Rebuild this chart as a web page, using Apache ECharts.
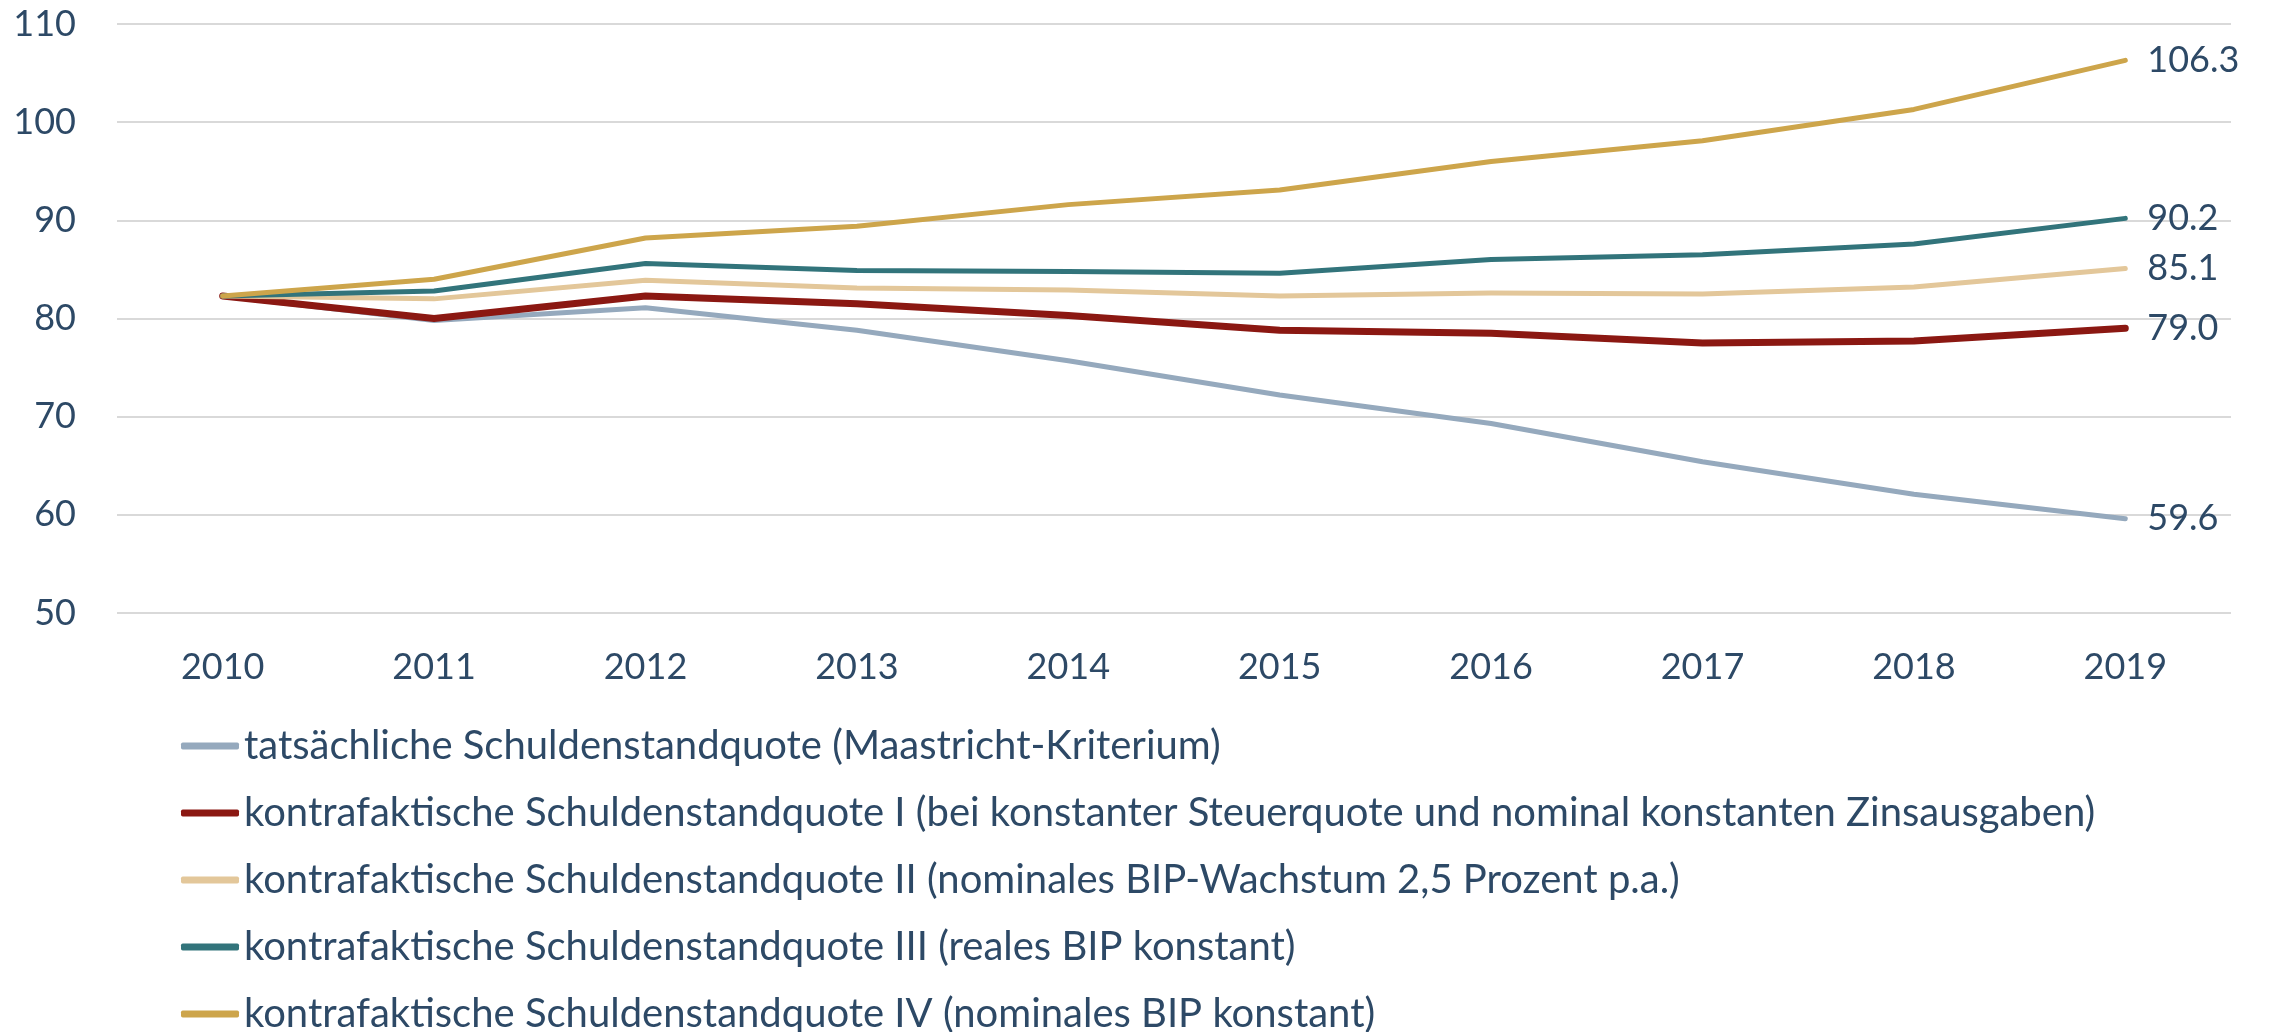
<!DOCTYPE html>
<html>
<head>
<meta charset="UTF-8">
<title>Schuldenstandquote</title>
<script src="https://cdn.jsdelivr.net/npm/echarts@6/dist/echarts.min.js"></script>
<style>
  html, body { margin: 0; padding: 0; background: #fff; }
  #main { width: 2272px; height: 1032px; }
</style>
</head>
<body>
<div id="main"></div>
<script>
  const years = ['2010', '2011', '2012', '2013', '2014', '2015', '2016', '2017', '2018', '2019'];

  // values (percent of GDP)
  const tatsaechlich = [82.3, 79.8, 81.1, 78.8, 75.7, 72.2, 69.3, 65.4, 62.1, 59.6];
  const quoteI = [82.3, 80.0, 82.3, 81.5, 80.3, 78.8, 78.5, 77.5, 77.7, 79.0];
  const quoteII = [82.3, 82.0, 83.9, 83.1, 82.9, 82.3, 82.6, 82.5, 83.2, 85.1];
  const quoteIII = [82.3, 82.8, 85.6, 84.9, 84.8, 84.6, 86.0, 86.5, 87.6, 90.2];
  const quoteIV = [82.3, 84.0, 88.2, 89.4, 91.6, 93.1, 96.0, 98.1, 101.3, 106.3];

  const names = [
    'tatsächliche Schuldenstandquote (Maastricht-Kriterium)',
    'kontrafaktische Schuldenstandquote I (bei konstanter Steuerquote und nominal konstanten Zinsausgaben)',
    'kontrafaktische Schuldenstandquote II (nominales BIP-Wachstum 2,5 Prozent p.a.)',
    'kontrafaktische Schuldenstandquote III (reales BIP konstant)',
    'kontrafaktische Schuldenstandquote IV (nominales BIP konstant)'
  ];
  const colors = ['#95A9BD', '#8B1812', '#E3C79A', '#32747B', '#CDA54B'];
  const widths = [5, 7, 5, 5, 5];
  const allValues = [tatsaechlich, quoteI, quoteII, quoteIII, quoteIV];

  const textColor = '#2D4966';
  const font = 'Lato';

  const chart = echarts.init(document.getElementById('main'), null, { renderer: 'canvas' });
  chart.setOption({
    animation: false,
    backgroundColor: '#ffffff',
    textStyle: { fontFamily: font, color: textColor },
    grid: { left: 117, right: 41, top: 24, bottom: 419, containLabel: false },
    xAxis: {
      type: 'category',
      data: years,
      boundaryGap: true,
      axisLine: { show: false },
      axisTick: { show: false },
      axisLabel: { color: textColor, fontFamily: font, fontSize: 36, margin: 36 }
    },
    yAxis: {
      type: 'value',
      min: 50,
      max: 110,
      interval: 10,
      axisLine: { show: false },
      axisTick: { show: false },
      axisLabel: { color: textColor, fontFamily: font, fontSize: 36, margin: 41 },
      splitLine: { lineStyle: { color: '#D9D9D9', width: 2 } }
    },
    legend: {
      orient: 'vertical',
      left: 176,
      top: 719,
      height: 420,
      icon: 'roundRect',
      itemWidth: 58,
      itemHeight: 7,
      itemGap: 23,
      data: names,
      textStyle: { color: textColor, fontFamily: font, fontSize: 40, lineHeight: 44 }
    },
    series: allValues.map((vals, i) => ({
      name: names[i],
      type: 'line',
      data: vals,
      symbol: 'none',
      smooth: false,
      color: colors[i],
      lineStyle: { color: colors[i], width: widths[i], cap: 'round', join: 'round' },
      endLabel: {
        show: true,
        distance: 22,
        color: textColor,
        fontFamily: font,
        fontSize: 36,
        formatter: p => Number(p.value).toFixed(1)
      }
    }))
  });
</script>
</body>
</html>
